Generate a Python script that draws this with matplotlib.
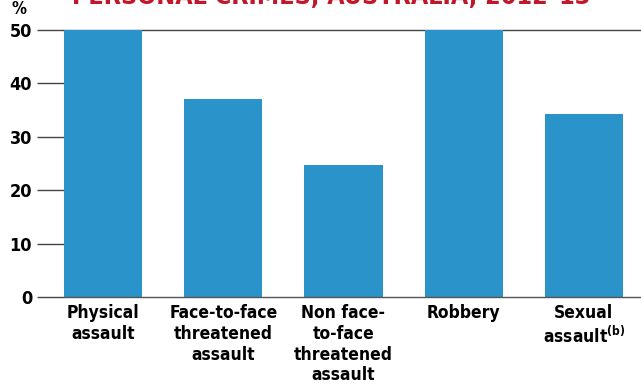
import matplotlib
matplotlib.use("Agg")
import matplotlib.pyplot as plt

# Victims who reported most recent incident to police, by offence type
categories = ["Physical\nassault", "Face-to-face\nthreatened\nassault",
              "Non face-\nto-face\nthreatened\nassault", "Robbery",
              "Sexual\nassault$^{\\rm (b)}$"]
values = [50.0, 37.1, 24.8, 50.0, 34.3]
yticks = [0, 10, 20, 30, 40, 50]

plt.rcParams["font.family"] = ["DejaVu Sans"]
plt.rcParams["font.weight"] = "bold"
plt.rcParams["font.stretch"] = "condensed"
plt.rcParams["mathtext.fontset"] = "custom"
plt.rcParams["mathtext.rm"] = "DejaVu Sans:bold"

fig = plt.figure(figsize=(6.41, 3.85), dpi=100)
ax = fig.add_axes([64 / 641, 88 / 385, 1 - 64 / 641, 267 / 385])

x = range(len(values))
ax.bar(x, values, width=0.65, color="#2a93c9", zorder=2)
ax.set_ylim(0, 50)
ax.set_xlim(-0.325, 4.475)

ax.set_yticks(yticks)
ax.set_yticklabels([str(v) for v in yticks], fontsize=13, fontweight="bold")
ax.tick_params(axis="y", length=19.5, width=1.0, color="#444444", pad=3.5)
ax.set_xticks(list(x))
ax.set_xticklabels(categories, fontsize=12.5, fontweight="bold", linespacing=1.2)
ax.tick_params(axis="x", length=0, pad=5)

for side in ("left", "right", "top"):
    ax.spines[side].set_visible(False)
ax.spines["bottom"].set_color("#555555")
ax.spines["bottom"].set_linewidth(1.0)
ax.axhline(50, color="#444444", lw=1.0, zorder=1, clip_on=False)

fig.text(12 / 641, 1 - 14 / 385, "%", fontsize=12, fontweight="bold")
fig.text(72 / 641, 1 - 4 / 385, "PERSONAL CRIMES, AUSTRALIA, 2012–13",
         fontsize=18, fontweight="bold", color="#c0172a", va="baseline")

fig.savefig("out.png", dpi=100)
